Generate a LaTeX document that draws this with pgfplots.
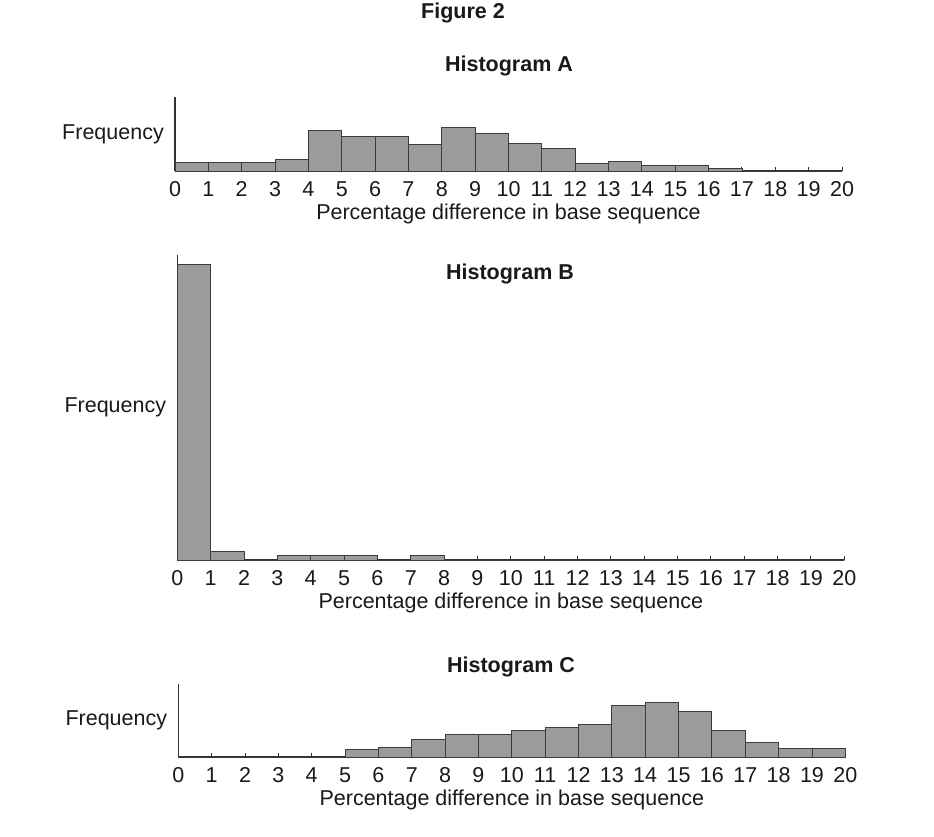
\documentclass[border=0pt]{standalone}
\usepackage{fontspec}
\setmainfont{Liberation Sans}
\usepackage{pgfplots}
\pgfplotsset{compat=1.18}

\definecolor{barfill}{RGB}{156,156,156}
\definecolor{baredge}{RGB}{60,60,60}
\definecolor{axisgray}{RGB}{50,50,50}
\definecolor{txt}{RGB}{25,25,25}

\newcommand{\fs}{\fontsize{21.5}{25}\selectfont}

\pgfplotsset{
  histo/.style={
    scale only axis,
    width=667pt,
    anchor=south west,
    axis lines=left,
    axis line style={-, axisgray, line width=1.3pt},
    xmin=0, xmax=20, ymin=0,
    enlargelimits=false,
    xtick={0,1,...,20},
    ytick=\empty,
    tick align=inside,
    major tick length=4pt,
    tick style={axisgray, line width=1pt},
    /pgf/number format/assume math mode=true,
    xticklabel style={font=\fs, text=txt, anchor=base, inner sep=0pt, yshift=-25.5pt},
    xlabel={Percentage difference in base sequence},
    xlabel style={font=\fs, text=txt, at={(axis description cs:0.5,0)}, anchor=base, inner sep=0pt, yshift=-48pt},
    ylabel={Frequency},
    ylabel style={font=\fs, text=txt, rotate=-90, at={(axis description cs:0,0.5)}, anchor=east, inner sep=0pt, xshift=-11pt},
    clip=false,
  },
  bars/.style={ybar interval, fill=barfill, draw=baredge, line width=0.9pt},
}

\begin{document}
\begin{tikzpicture}
\path[use as bounding box] (0,0) rectangle (934pt,-836pt);

\node[font=\fs\bfseries, text=txt, anchor=base] at (463pt,-18.5pt) {Figure 2};

% Histogram A
\begin{axis}[histo, at={(175pt,-171pt)}, height=74.3pt, ymax=74.3]
\addplot[bars] coordinates {
  (0,9.0) (1,8.4) (2,9.0) (3,12.0) (4,40.2) (5,34.8) (6,34.8) (7,26.1)
  (8,43.8) (9,37.8) (10,27.4) (11,22.8) (12,7.4) (13,10.0) (14,6.0)
  (15,6.0) (16,3.0) (17,0) (18,0) (19,0) (20,0)
};
\end{axis}
\node[font=\fs\bfseries, text=txt, anchor=base] at (509pt,-71.5pt) {Histogram A};

% Histogram B
\begin{axis}[histo, at={(177.3pt,-560pt)}, height=305pt, ymax=305]
\addplot[bars] coordinates {
  (0,296) (1,8.7) (2,0) (3,4.3) (4,4.3) (5,4.3) (6,0) (7,4.3)
  (8,0) (9,0) (10,0) (11,0) (12,0) (13,0) (14,0) (15,0) (16,0)
  (17,0) (18,0) (19,0) (20,0)
};
\end{axis}
\node[font=\fs\bfseries, text=txt, anchor=base] at (510pt,-279pt) {Histogram B};

% Histogram C
\begin{axis}[histo, at={(178.3pt,-757pt)}, height=73pt, ymax=73]
\addplot[bars] coordinates {
  (0,0) (1,0) (2,0) (3,0) (4,0) (5,7.1) (6,9.8) (7,17.2) (8,22.2)
  (9,22.2) (10,26.9) (11,29.9) (12,33.0) (13,51.1) (14,54.5) (15,45.4)
  (16,26.9) (17,14.1) (18,8.4) (19,8.4) (20,0)
};
\end{axis}
\node[font=\fs\bfseries, text=txt, anchor=base] at (511pt,-672pt) {Histogram C};
\end{tikzpicture}
\end{document}
